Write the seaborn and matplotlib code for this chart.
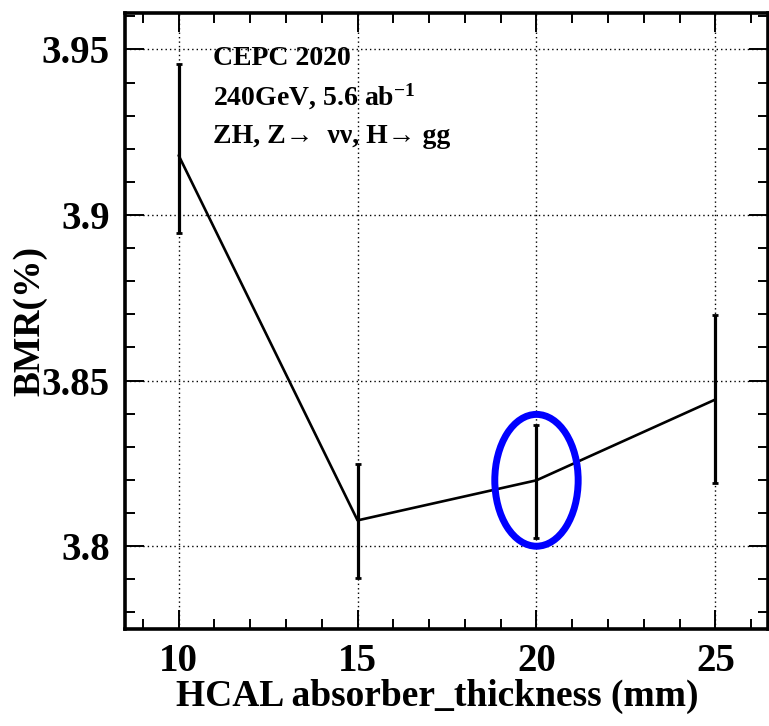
import matplotlib
matplotlib.use("Agg")
import matplotlib.pyplot as plt
from matplotlib.patches import Ellipse
from matplotlib.ticker import MultipleLocator
import seaborn as sns
import pandas as pd

# ---- data ----
thickness = [10, 15, 20, 25]
bmr = [3.9180, 3.8078, 3.8199, 3.8443]
err_low = [0.0234, 0.0175, 0.0175, 0.0253]
err_high = [0.0275, 0.0170, 0.0166, 0.0256]
x_ticks = [10, 15, 20, 25]
y_ticks = [3.80, 3.85, 3.90, 3.95]
highlight_index = 2

df = pd.DataFrame({"thickness": thickness, "bmr": bmr})

sns.set_theme(style="ticks")
plt.rcParams["font.family"] = ["Liberation Serif", "DejaVu Serif"]
plt.rcParams["font.weight"] = "bold"
plt.rcParams["text.color"] = "black"
plt.rcParams["axes.labelcolor"] = "black"
plt.rcParams["xtick.color"] = "black"
plt.rcParams["ytick.color"] = "black"
plt.rcParams["xtick.labelcolor"] = "black"
plt.rcParams["ytick.labelcolor"] = "black"
plt.rcParams["mathtext.fontset"] = "custom"
plt.rcParams["mathtext.rm"] = "Liberation Serif:bold"
plt.rcParams["mathtext.bf"] = "Liberation Serif:bold"
plt.rcParams["mathtext.it"] = "Liberation Serif:bold"

fig = plt.figure(figsize=(7.69, 7.26), dpi=100)
ax = fig.add_axes([0.1625, 0.1336, 0.8362, 0.8485])

# grid
ax.set_xticks(x_ticks)
ax.set_yticks(y_ticks)
ax.grid(True, which="major", color="black", linestyle=(0, (1, 2.2)), linewidth=1.0)

sns.lineplot(data=df, x="thickness", y="bmr", color="black", linewidth=1.9,
             errorbar=None, ax=ax, zorder=3)
ax.errorbar(thickness, bmr, yerr=[err_low, err_high], fmt="none", ecolor="black",
            elinewidth=2.3, capsize=2.5, capthick=2.0, zorder=3)

# highlight ellipse around the chosen point
ell = Ellipse((thickness[highlight_index], bmr[highlight_index]), width=2.33, height=0.0398,
              fill=False, edgecolor="#0000ff", linewidth=5, zorder=4)
ax.add_patch(ell)

ax.set_xlim(8.5, 26.47)
ax.set_ylim(3.775, 3.961)

ax.xaxis.set_minor_locator(MultipleLocator(1))
ax.yaxis.set_minor_locator(MultipleLocator(0.01))
ax.yaxis.set_major_formatter(matplotlib.ticker.FuncFormatter(lambda v, p: "%g" % round(v, 3)))

ax.tick_params(which="both", direction="in", top=True, right=True, color="black")
ax.tick_params(which="major", length=13.5, width=1.4)
ax.tick_params(which="minor", length=7, width=1.4)
ax.tick_params(axis="x", which="major", labelsize=28, pad=10, labelcolor="black")
ax.tick_params(axis="y", which="major", labelsize=28, pad=11, labelcolor="black")
for lab in ax.get_xticklabels() + ax.get_yticklabels():
    lab.set_fontweight("bold")
    lab.set_family(["Liberation Serif", "DejaVu Serif"])

for s in ax.spines.values():
    s.set_linewidth(2.6)
    s.set_color("black")

ax.set_xlabel("HCAL absorber_thickness (mm)", fontsize=27, fontweight="bold", color="black")
ax.xaxis.label.set_va("center")
ax.xaxis.set_label_coords(0.485, -0.110)
ax.set_ylabel("BMR(%)", fontsize=27, fontweight="bold", color="black")
ax.yaxis.label.set_va("center")
ax.yaxis.set_label_coords(-0.148, 0.50)

# annotation text
tx = 213 / 769
fig.text(tx, 1 - 65 / 726, "CEPC 2020", fontsize=20, fontweight="bold", va="baseline",
         ha="left", color="black")
fig.text(tx, 1 - 105 / 726, r"240GeV, 5.6 ab$^{\mathbf{-1}}$", fontsize=20, fontweight="bold",
         va="baseline", ha="left", color="black")
fig.text(tx, 1 - 143 / 726, "ZH, Z\u2192  \u03bd\u03bd, H\u2192 gg", fontsize=20, fontweight="bold",
         va="baseline", ha="left", color="black", family=["Liberation Serif", "DejaVu Serif"])

fig.savefig("out.png", dpi=100)
